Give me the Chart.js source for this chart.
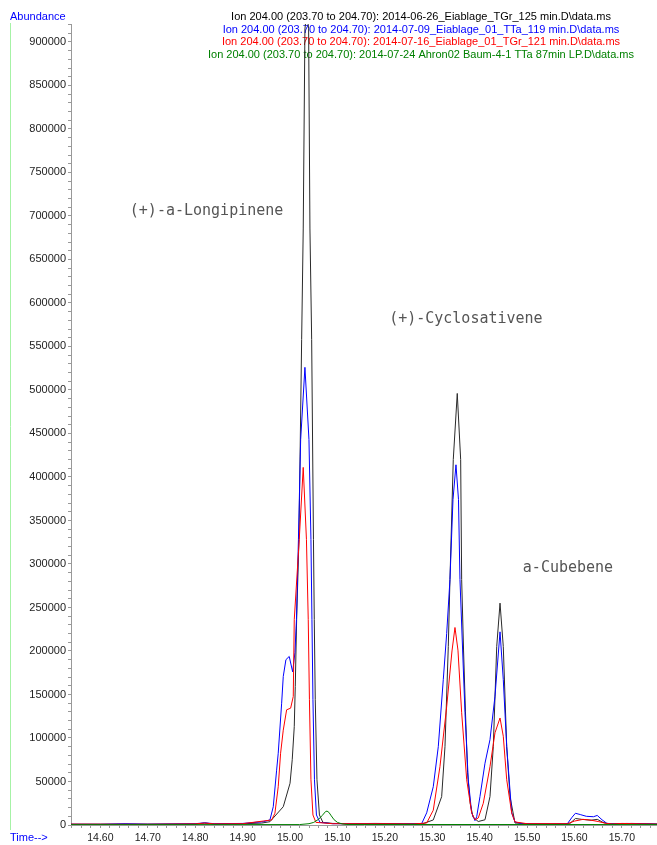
<!DOCTYPE html>
<html><head><meta charset="utf-8">
<script src="https://cdn.jsdelivr.net/npm/chart.js@4/dist/chart.umd.min.js"></script>
<style>html,body{margin:0;padding:0;background:#fff;overflow:hidden}canvas{display:block}</style>
</head><body>
<canvas id="c" width="657" height="845"></canvas>
<script>
// ---- series labels ----
const seriesNames = [
  "Ion 204.00 (203.70 to 204.70): 2014-06-26_Eiablage_TGr_125 min.D\\data.ms",
  "Ion 204.00 (203.70 to 204.70): 2014-07-09_Eiablage_01_TTa_119 min.D\\data.ms",
  "Ion 204.00 (203.70 to 204.70): 2014-07-16_Eiablage_01_TGr_121 min.D\\data.ms",
  "Ion 204.00 (203.70 to 204.70): 2014-07-24 Ahron02 Baum-4-1 TTa 87min LP.D\\data.ms"
];

// ---- black trace ----
const blackTimes = [14.538,14.60,14.70,14.80,14.82,14.84,14.90,14.94,14.9576,14.9857,15.000,15.0046,15.0089,15.011,15.0139,15.0188,15.0245,15.0278,15.0314,15.0353,15.0392,15.042,15.0456,15.0494,15.0511,15.0532,15.0568,15.062,15.0694,15.09,15.12,15.18,15.24,15.28,15.3021,15.3198,15.3268,15.3338,15.3373,15.3443,15.3527,15.3599,15.362,15.366,15.370,15.3745,15.380,15.386,15.397,15.4112,15.4217,15.4287,15.4359,15.4429,15.4498,15.457,15.464,15.4745,15.50,15.55,15.59,15.602,15.615,15.635,15.648,15.66,15.67,15.70,15.72,15.774];
const blackValues = [800,900,1000,1200,2200,1200,1500,2200,3800,21000,48000,75000,113000,159000,236000,328000,558000,685000,915000,935000,915000,685000,558000,328000,236000,144000,52000,11500,3000,1800,1500,1800,1500,1500,5800,32600,90000,205000,282000,420000,496000,420000,282000,200000,130000,60000,25000,9000,4000,6000,32600,90000,205000,255000,205000,90000,32600,2300,1500,1200,1500,7500,6500,5500,6500,3000,1500,1500,1800,1200];

// ---- blue trace ----
const blueTimes = [14.538,14.60,14.652,14.70,14.80,14.82,14.84,14.90,14.9435,14.9576,14.9646,14.9717,14.9751,14.9823,14.9857,14.9913,14.9983,15.0055,15.0103,15.0135,15.0177,15.0224,15.0314,15.0399,15.0441,15.0462,15.0483,15.0515,15.0557,15.0631,15.09,15.15,15.20,15.26,15.2776,15.2882,15.3021,15.3127,15.3232,15.3304,15.3373,15.3437,15.350,15.3553,15.3584,15.369,15.3759,15.3831,15.3901,15.3937,15.4006,15.4112,15.4217,15.4323,15.4429,15.4498,15.457,15.4675,15.4745,15.49,15.55,15.585,15.595,15.602,15.612,15.625,15.64,15.648,15.658,15.668,15.68,15.71,15.774];
const blueValues = [900,800,1500,900,1500,2500,1500,1800,3800,5800,21000,63000,82500,140000,170700,190000,193700,176000,198000,236000,328000,443000,526000,443000,328000,236000,144000,52000,11500,3000,1500,1500,1200,1200,1500,14000,44000,90000,167000,220000,282000,374000,414000,374000,282000,129000,52000,14000,5000,9500,32600,71000,98000,148000,222000,167000,90000,14000,3500,1500,1200,1500,9000,13500,12000,10000,9500,11000,6000,2000,1200,1800,1000];

// ---- red trace ----
const redTimes = [14.538,14.60,14.70,14.80,14.82,14.84,14.90,14.9612,14.9681,14.9751,14.9801,14.9857,14.9928,15.0013,15.0068,15.0089,15.0194,15.0278,15.0346,15.0384,15.0409,15.0441,15.0483,15.0546,15.09,15.20,15.26,15.2882,15.3021,15.3162,15.3304,15.3416,15.3479,15.3542,15.362,15.3726,15.3831,15.3901,15.397,15.4076,15.4217,15.4323,15.4429,15.4498,15.457,15.4675,15.4745,15.50,15.585,15.60,15.618,15.635,15.65,15.665,15.68,15.70,15.774];
const redValues = [1000,900,800,1300,2200,1300,1500,5800,13500,44000,82500,109000,132400,134300,147700,236000,328000,411000,328000,236000,144000,52000,11500,3000,1500,1500,1200,2300,17000,67000,136000,200000,227000,201000,129000,52000,14000,6000,8000,25000,67000,106000,123000,102000,52000,14000,3500,1500,1500,4500,6500,5500,4000,2000,1200,1800,1000];

// ---- green trace ----
const greenTimes = [14.538,15.02,15.04,15.05,15.06,15.068,15.075,15.078,15.082,15.087,15.093,15.10,15.11,15.12,15.774];
const greenValues = [400,500,1500,3000,6500,11000,15500,16000,14500,10500,6000,3000,1200,600,500];

// ---- peak annotations ----
const peakNames = ["(+)-a-Longipinene", "(+)-Cyclosativene", "a-Cubebene"];
const peakTimes = [14.662, 15.209, 15.491];
const peakHeights = [705000, 581000, 295000];

// ---- axis ticks ----
const xMin = 14.538, xMax = 15.774, xMinorStep = 0.02, xLabelStep = 0.1;
const yMin = 0, yMax = 920600, yMinorStep = 10000, yLabelStep = 50000;

const lineColors = ['#2a2a2a', '#0000ff', '#ff0000', '#008000'];
const textColors = ['#000000', '#0000ff', '#ff0000', '#008000'];

const traces = [[blackTimes, blackValues], [blueTimes, blueValues], [redTimes, redValues], [greenTimes, greenValues]];
const datasets = traces.map((tr, i) => ({
  label: seriesNames[i],
  data: tr[0].map((t, k) => ({x: t, y: tr[1][k]})),
  borderColor: lineColors[i],
  borderWidth: 1,
  pointRadius: 0,
  tension: 0,
  fill: false,
  order: 3 - i
}));

function isMultiple(v, step) { const r = v / step; return Math.abs(r - Math.round(r)) < 1e-6; }
function stepTicks(min, max, step) {
  const out = [];
  for (let k = Math.ceil(min / step - 1e-9); k * step <= max + 1e-9; k++) out.push({value: +(k * step).toFixed(6)});
  return out;
}

const overlay = {
  id: 'overlay',
  beforeDatasetsDraw(chart) {
    const ctx = chart.ctx, xs = chart.scales.x, ys = chart.scales.y;
    ctx.save();
    ctx.strokeStyle = '#a6f2a6'; ctx.lineWidth = 1;
    ctx.beginPath(); ctx.moveTo(10.5, 23); ctx.lineTo(10.5, 830); ctx.stroke();
    ctx.font = '11px "Liberation Sans", Arial, sans-serif';
    ctx.textBaseline = 'middle';
    ctx.textAlign = 'left'; ctx.fillStyle = '#0000ff';
    ctx.fillText('Abundance', 10, 17);
    ctx.fillText('Time-->', 10, 838);
    ctx.textAlign = 'center';
    seriesNames.forEach((s, i) => { ctx.fillStyle = textColors[i]; ctx.fillText(s, 421, 17 + i * 12.7); });
    ctx.font = '15px "DejaVu Sans Mono", monospace';
    ctx.fillStyle = '#555555'; ctx.textAlign = 'left';
    peakNames.forEach((n, i) => ctx.fillText(n, xs.getPixelForValue(peakTimes[i]), ys.getPixelForValue(peakHeights[i])));
    ctx.restore();
  }
};

Chart.defaults.font.family = '"Liberation Sans", Arial, sans-serif';
Chart.defaults.font.size = 11;

new Chart(document.getElementById('c'), {
  type: 'line',
  data: {datasets},
  options: {
    responsive: false, animation: false, devicePixelRatio: 1,
    layout: {padding: {top: 24, left: 0, right: 0, bottom: 0}},
    plugins: {legend: {display: false}, tooltip: {enabled: false}},
    scales: {
      x: {
        type: 'linear', min: xMin, max: xMax,
        afterFit(s) { s.height = 20; },
        afterBuildTicks(s) { s.ticks = stepTicks(xMin, xMax, xMinorStep); },
        grid: {drawOnChartArea: false, drawTicks: true, tickLength: 3, color: '#999'},
        border: {color: '#999'},
        ticks: {autoSkip: false, maxRotation: 0, minRotation: 0, color: '#222', padding: 4,
          font: {size: 10.5},
          callback: v => isMultiple(v, xLabelStep) ? v.toFixed(2) : ''}
      },
      y: {
        type: 'linear', min: yMin, max: yMax,
        afterFit(s) { s.width = 71; },
        afterBuildTicks(s) { s.ticks = stepTicks(yMin, yMax, yMinorStep); },
        grid: {drawOnChartArea: false, drawTicks: true, tickLength: 3, color: '#999'},
        border: {color: '#999'},
        ticks: {autoSkip: false, color: '#222', padding: 2,
          callback: v => isMultiple(v, yLabelStep) ? String(v) : ''}
      }
    }
  },
  plugins: [overlay]
});
</script>
</body></html>
